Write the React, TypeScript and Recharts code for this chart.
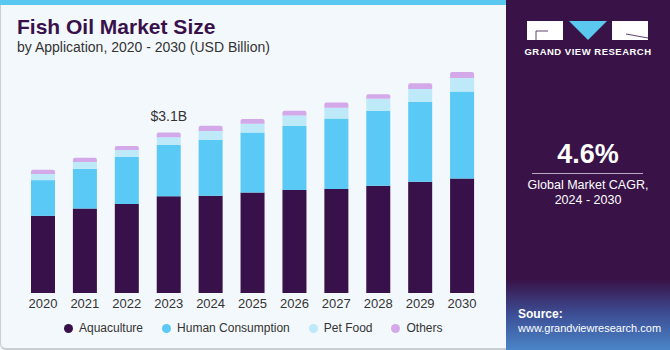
import React from "react";
import { BarChart, Bar, XAxis, YAxis, LabelList } from "recharts";

const years = ["2020", "2021", "2022", "2023", "2024", "2025", "2026", "2027", "2028", "2029", "2030"];
const aquaculture = [1.49, 1.63, 1.72, 1.87, 1.88, 1.94, 1.99, 2.01, 2.07, 2.15, 2.21];
const humanConsumption = [0.69, 0.77, 0.91, 0.99, 1.08, 1.16, 1.24, 1.36, 1.45, 1.54, 1.68];
const petFood = [0.12, 0.13, 0.13, 0.15, 0.17, 0.17, 0.2, 0.21, 0.23, 0.25, 0.26];
const others = [0.08, 0.08, 0.08, 0.09, 0.1, 0.09, 0.09, 0.1, 0.09, 0.11, 0.12];

const series = [
  { key: "aquaculture", name: "Aquaculture", color: "#38104a" },
  { key: "humanConsumption", name: "Human Consumption", color: "#5bc9f5" },
  { key: "petFood", name: "Pet Food", color: "#bde9f9" },
  { key: "others", name: "Others", color: "#d4a9ea" },
];

const labelIndex = 3;

const data = years.map((year, i) => ({
  year,
  aquaculture: aquaculture[i],
  humanConsumption: humanConsumption[i],
  petFood: petFood[i],
  others: others[i],
}));

const font = "'Liberation Sans', Arial, sans-serif";

function TotalLabel(props: any) {
  const { x, y, width, index } = props;
  if (index !== labelIndex) return null;
  const total = aquaculture[index] + humanConsumption[index] + petFood[index] + others[index];
  return (
    <text x={x + width / 2} y={y - 11} textAnchor="middle" fill="#333" fontSize={14} fontFamily={font}>
      ${total.toFixed(1)}B
    </text>
  );
}

export default function App() {
  return (
    <div
      style={{
        position: "absolute",
        left: 0,
        top: 0,
        width: 670,
        height: 350,
        background: "#f3f8fc",
        fontFamily: font,
        overflow: "hidden",
      }}
    >
      {/* card borders */}
      <div
        style={{
          position: "absolute",
          left: 0,
          top: 0,
          width: 505,
          height: 348,
          borderLeft: "1px solid #c9ced3",
          borderBottom: "2px solid #c9ced3",
          borderBottomLeftRadius: 6,
        }}
      />
      <div style={{ position: "absolute", left: 0, top: 0, width: 506, height: 5, background: "#5bc8f0" }} />

      <div style={{ position: "absolute", left: 17, top: 15, fontSize: 21, fontWeight: 900, color: "#38104a" }}>
        Fish Oil Market Size
      </div>
      <div style={{ position: "absolute", left: 17, top: 39, fontSize: 14, color: "#333" }}>
        by Application, 2020 - 2030 (USD Billion)
      </div>

      <div style={{ position: "absolute", left: 0, top: 0 }}>
        <BarChart width={500} height={350} data={data} margin={{ top: 60, right: 17, bottom: 37, left: 22 }} barSize={24}>
          <XAxis
            dataKey="year"
            axisLine={false}
            tickLine={false}
            tickMargin={0}
            height={20}
            interval={0}
            tick={{ fill: "#333", fontSize: 13, fontFamily: font }}
          />
          <YAxis hide domain={[0, 4.5]} />
          {series.map((s, i) => (
            <Bar
              key={s.key}
              dataKey={s.key}
              name={s.name}
              stackId="a"
              fill={s.color}
              isAnimationActive={false}
              radius={i === series.length - 1 ? [2, 2, 0, 0] : 0}
            >
              {i === series.length - 1 && <LabelList dataKey="others" content={TotalLabel} />}
            </Bar>
          ))}
        </BarChart>
      </div>

      {/* legend */}
      <div
        style={{
          position: "absolute",
          left: 64,
          top: 320,
          display: "flex",
          alignItems: "center",
          fontSize: 12,
          color: "#333",
          height: 16,
        }}
      >
        {series.map((s) => (
          <div key={s.key} style={{ display: "flex", alignItems: "center", marginRight: 19 }}>
            <span
              style={{
                display: "inline-block",
                width: 9,
                height: 9,
                borderRadius: "50%",
                background: s.color,
                marginRight: 6,
              }}
            />
            <span>{s.name}</span>
          </div>
        ))}
      </div>

      {/* right panel */}
      <div
        style={{
          position: "absolute",
          left: 506,
          top: 0,
          width: 164,
          height: 350,
          background: "linear-gradient(180deg, #391348 0%, #391348 80%, #3d4f96 90%, #4a86c8 100%)",
          color: "#fff",
        }}
      >
        <svg width={164} height={60} style={{ position: "absolute", left: 0, top: 0 }}>
          <rect x={21} y={21} width={36} height={19} fill="#fff" />
          <line x1={30} y1={31} x2={42} y2={31} stroke="#391348" strokeWidth={0.8} />
          <line x1={30} y1={31} x2={30} y2={40} stroke="#391348" strokeWidth={0.8} />
          <polygon points="63,21 101,21 82,40" fill="#5bc8f0" />
          <rect x={106} y={21} width={36} height={19} fill="#fff" />
          <line x1={120} y1={34} x2={142} y2={38} stroke="#391348" strokeWidth={0.8} />
          <text x={82} y={55} textAnchor="middle" fill="#fff" fontSize={9.5} fontWeight={700} fontFamily={font} letterSpacing={0.5}>
            GRAND VIEW RESEARCH
          </text>
        </svg>
        <div style={{ position: "absolute", left: 0, width: 164, top: 139, textAlign: "center", fontSize: 27, fontWeight: 700 }}>
          4.6%
        </div>
        <div style={{ position: "absolute", left: 26, top: 173, width: 111, height: 1, background: "#b9a8c0" }} />
        <div style={{ position: "absolute", left: 0, width: 164, top: 178, textAlign: "center", fontSize: 12.5, lineHeight: "15px" }}>
          Global Market CAGR,
          <br />
          2024 - 2030
        </div>
        <div style={{ position: "absolute", left: 12, top: 307, fontSize: 12, fontWeight: 700 }}>Source:</div>
        <div style={{ position: "absolute", left: 12, top: 322, fontSize: 11, whiteSpace: "nowrap" }}>www.grandviewresearch.com</div>
      </div>
    </div>
  );
}
